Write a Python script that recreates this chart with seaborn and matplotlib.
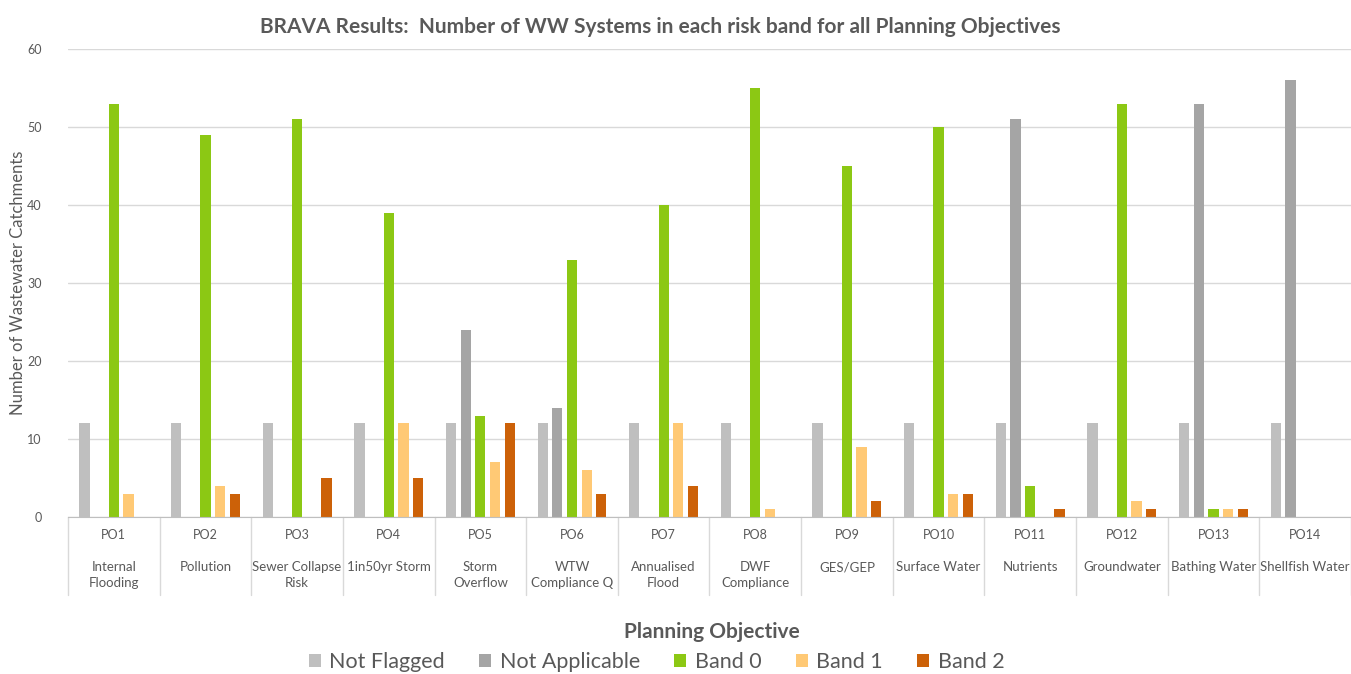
import numpy as np
import pandas as pd
import seaborn as sns
import matplotlib.pyplot as plt
import matplotlib.transforms as mtransforms

objectives = ['PO1', 'PO2', 'PO3', 'PO4', 'PO5', 'PO6', 'PO7',
              'PO8', 'PO9', 'PO10', 'PO11', 'PO12', 'PO13', 'PO14']
descriptions = ['Internal\nFlooding', 'Pollution', 'Sewer Collapse\nRisk', '1in50yr Storm',
                'Storm\nOverflow', 'WTW\nCompliance Q', 'Annualised\nFlood', 'DWF\nCompliance',
                'GES/GEP', 'Surface Water', 'Nutrients', 'Groundwater',
                'Bathing Water', 'Shellfish Water']

not_flagged    = [12, 12, 12, 12, 12, 12, 12, 12, 12, 12, 12, 12, 12, 12]
not_applicable = [0, 0, 0, 0, 24, 14, 0, 0, 0, 0, 51, 0, 53, 56]
band0          = [53, 49, 51, 39, 13, 33, 40, 55, 45, 50, 4, 53, 1, 0]
band1          = [3, 4, 0, 12, 7, 6, 12, 1, 9, 3, 0, 2, 1, 0]
band2          = [0, 3, 5, 5, 12, 3, 4, 0, 2, 3, 1, 1, 1, 0]

series = {'Not Flagged': not_flagged, 'Not Applicable': not_applicable,
          'Band 0': band0, 'Band 1': band1, 'Band 2': band2}
colors = {'Not Flagged': '#BFBFBF', 'Not Applicable': '#A5A5A5',
          'Band 0': '#8CC814', 'Band 1': '#FFC975', 'Band 2': '#CC6108'}

rows = []
for name, vals in series.items():
    for po, v in zip(objectives, vals):
        rows.append({'Objective': po, 'Band': name, 'Count': v})
df = pd.DataFrame(rows)

sns.set_style('white')
plt.rcParams['font.family'] = ['Lato', 'DejaVu Sans']
text_col = '#595959'

fig = plt.figure(figsize=(13.51, 6.74), dpi=100)
ax = fig.add_axes([0.0503, 0.233, 0.9497, 0.694])

sns.barplot(data=df, x='Objective', y='Count', hue='Band', order=objectives,
            hue_order=list(series.keys()), palette=colors, width=0.8, gap=0.3,
            saturation=1, linewidth=0, ax=ax, legend=True)

ax.set_ylim(0, 60)
ax.set_xlim(-0.5, len(objectives) - 0.5)
ax.set_yticks(range(0, 61, 10))
ax.yaxis.grid(True, color='#D9D9D9', linewidth=1)
ax.set_axisbelow(True)
for s in ['top', 'right', 'left']:
    ax.spines[s].set_visible(False)
ax.spines['bottom'].set_color('#BFBFBF')
ax.tick_params(axis='y', length=0, labelsize=9, labelcolor=text_col, pad=19)
ax.tick_params(axis='x', length=0, labelsize=9, labelcolor=text_col, pad=9)
ax.set_ylabel('Number of Wastewater Catchments', fontsize=12, color=text_col, labelpad=1)
ax.set_xlabel('')

# second level category labels and separators
trans = mtransforms.blended_transform_factory(ax.transData, ax.transAxes)
for i, d in enumerate(descriptions):
    ax.text(i, -0.095, d, transform=trans, ha='center', va='top', fontsize=9.5,
            color=text_col, linespacing=1.4, clip_on=False)
for i in range(len(objectives) + 1):
    ax.plot([i - 0.5, i - 0.5], [0, -0.167], transform=trans, color='#D9D9D9',
            linewidth=1, clip_on=False)

fig.text(0.489, 0.96, 'BRAVA Results:  Number of WW Systems in each risk band for all Planning Objectives',
         ha='center', va='center', fontsize=15, fontweight='bold', color=text_col)
fig.text(0.527, 0.062, 'Planning Objective', ha='center', va='center',
         fontsize=15, fontweight='bold', color=text_col)

handles, labels = ax.get_legend_handles_labels()
ax.get_legend().remove()
fig.legend(handles, labels, loc='center', bbox_to_anchor=(0.486, 0.018), ncol=5,
           frameon=False, fontsize=15.5, handlelength=0.55, handleheight=0.55,
           handletextpad=0.4, columnspacing=1.6, labelcolor=text_col)

fig.savefig('out.png', dpi=100)
